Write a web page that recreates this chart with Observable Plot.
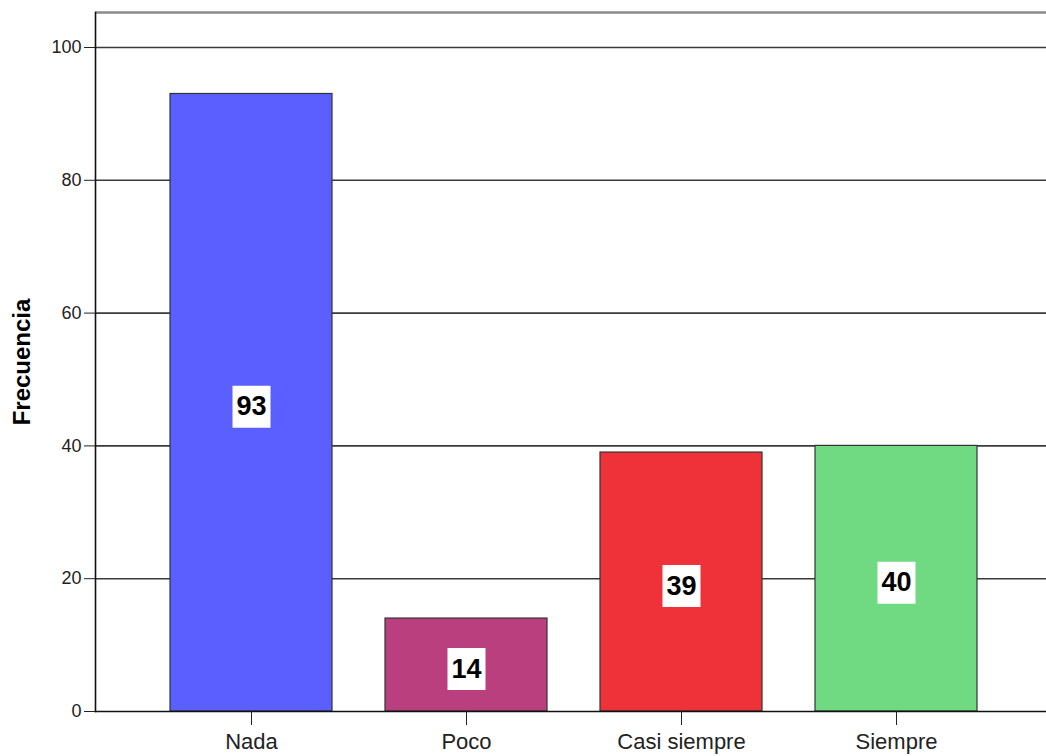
<!DOCTYPE html>
<html>
<head>
<meta charset="utf-8">
<script src="https://cdn.jsdelivr.net/npm/d3@7"></script>
<script src="https://cdn.jsdelivr.net/npm/@observablehq/plot@0.6"></script>
<style>
  html, body { margin: 0; padding: 0; background: #fff; }
  svg { display: block; }
</style>
</head>
<body>
<div id="chart"></div>
<script>
// Frequency of each response category
const categories = ["Nada", "Poco", "Casi siempre", "Siempre"];
const counts = [93, 14, 39, 40];
const barColors = ["#5b5fff", "#ba3f7e", "#ef323a", "#70da82"];
const yTicks = [0, 20, 40, 60, 80, 100];
const yMax = 105.27;

const data = categories.map((c, i) => ({category: c, count: counts[i], color: barColors[i]}));

// White box behind each value label
const labelBox = {
  draw(context) {
    context.rect(-19, -21, 38, 42);
  }
};

const chart = Plot.plot({
  width: 1046,
  height: 756,
  marginLeft: 95,
  marginRight: 0,
  marginTop: 12,
  marginBottom: 45,
  style: {fontFamily: "'Liberation Sans', Arial, sans-serif", background: "#fff"},
  x: {
    domain: categories,
    paddingInner: 0.2477,
    paddingOuter: 0.33,
    align: 0.52,
    label: null
  },
  y: {
    domain: [0, yMax],
    ticks: yTicks,
    label: null
  },
  marks: [
    // horizontal gridlines and the top edge of the frame
    Plot.ruleY(yTicks.filter(d => d > 0), {stroke: "#3a3a3a", strokeWidth: 1.6}),
    Plot.ruleY([yMax], {stroke: "#8a8a8a", strokeWidth: 2.5}),
    Plot.barY(data, {x: "category", y: "count", fill: "color", stroke: "#333", strokeWidth: 1.2}),
    Plot.dot(data, {x: "category", y: d => d.count / 2, dy: 4, symbol: labelBox, fill: "#fff", stroke: null}),
    Plot.text(data, {x: "category", y: d => d.count / 2, dy: 4, text: d => String(d.count),
      fontSize: 27, fontWeight: "bold", fill: "#000"}),
    // axis lines
    Plot.ruleY([0], {stroke: "#111", strokeWidth: 1.6}),
    Plot.frame({anchor: "left", stroke: "#111", strokeWidth: 1.6}),
    Plot.axisX({tickSize: 14, tickPadding: 8, fontSize: 22, stroke: "#222", fill: "#222"}),
    Plot.axisY({ticks: yTicks, tickSize: 11, tickPadding: 3, fontSize: 18, stroke: "#222", fill: "#222"}),
    Plot.text(["Frecuencia"], {frameAnchor: "left", textAnchor: "middle", dx: -73, rotate: -90,
      fontSize: 24, fontWeight: "bold", fill: "#000"})
  ]
});

document.getElementById("chart").appendChild(chart);
</script>
</body>
</html>
